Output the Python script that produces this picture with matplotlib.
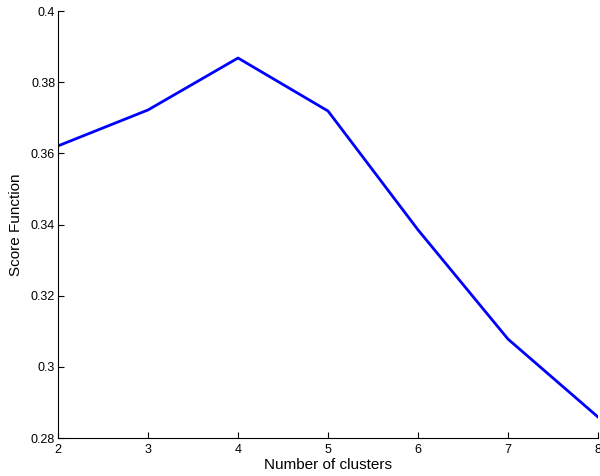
import matplotlib
matplotlib.use('Agg')
import matplotlib.pyplot as plt

plt.rcParams['font.family'] = ['Liberation Sans', 'DejaVu Sans']

clusters = [2, 3, 4, 5, 6, 7, 8]
scores = [0.3621, 0.3722, 0.3868, 0.3719, 0.3385, 0.3078, 0.2859]
yticks = [0.28, 0.3, 0.32, 0.34, 0.36, 0.38, 0.4]
ytick_labels = ['0.28', '0.3', '0.32', '0.34', '0.36', '0.38', '0.4']

fig = plt.figure(figsize=(6, 4.76), dpi=100)
ax = fig.add_axes([0.0967, 0.0798, 0.9, 0.897])
ax.plot(clusters, scores, color='#0000ff', linewidth=2)

ax.set_xlim(2, 8)
ax.set_ylim(0.28, 0.4)
ax.set_xticks(clusters)
ax.set_yticks(yticks)
ax.set_yticklabels(ytick_labels)
ax.tick_params(direction='in', length=4, labelsize=9, width=0.8)
ax.tick_params(axis='x', pad=4)
ax.tick_params(axis='y', pad=2)
for s in ['top', 'right']:
    ax.spines[s].set_visible(False)
ax.set_xlabel('Number of clusters', fontsize=11, labelpad=2)
ax.set_ylabel('Score Function', fontsize=11, labelpad=6)

fig.savefig('out.png', dpi=100)
